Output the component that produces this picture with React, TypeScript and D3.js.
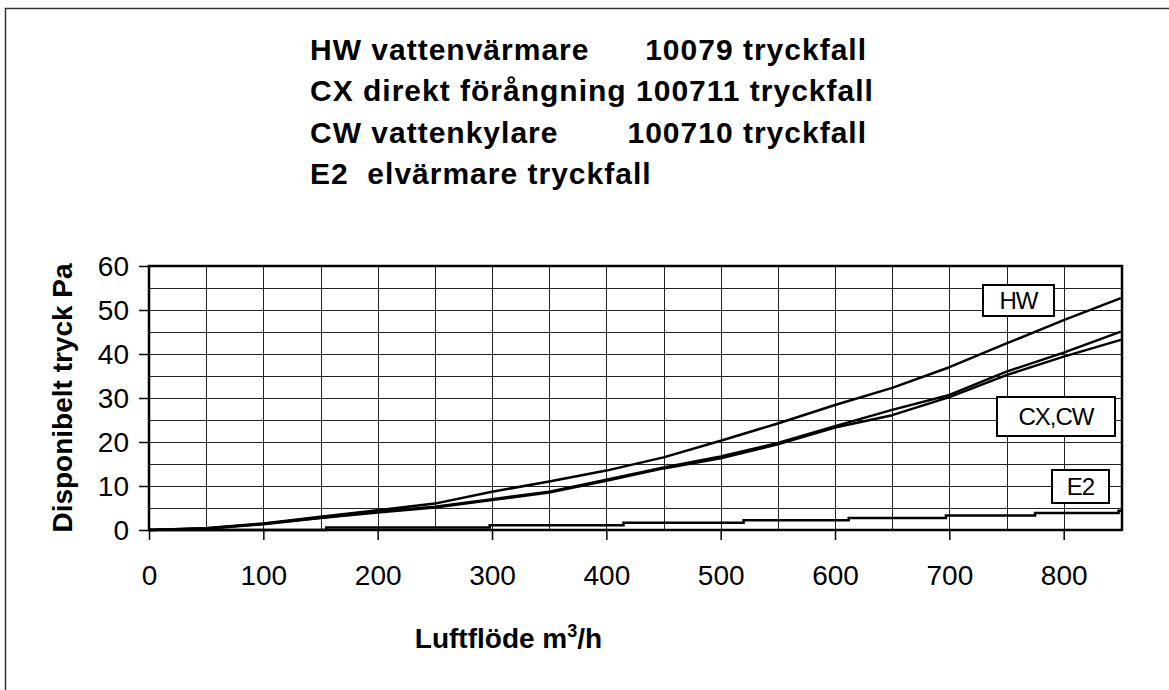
import * as d3 from "d3";
import { useEffect, useRef } from "react";

// Luftflöde (m3/h) sample points
const flow = [0, 50, 100, 150, 200, 250, 300, 350, 400, 450, 500, 550, 600, 650, 700, 750, 800, 850];

// tryckfall Pa per coil
const hwValues = [0, 0.4, 1.5, 3.0, 4.5, 6.0, 8.7, 11.0, 13.5, 16.5, 20.3, 24.2, 28.4, 32.3, 37.0, 42.4, 47.7, 52.7];
const cxValues = [0, 0.4, 1.4, 2.8, 4.2, 5.3, 7.0, 8.7, 11.4, 14.2, 16.7, 19.8, 23.6, 27.3, 30.7, 36.0, 40.3, 45.1];
const cwValues = [0, 0.3, 1.3, 2.7, 4.0, 5.1, 6.8, 8.5, 11.2, 14.0, 16.3, 19.5, 23.3, 26.1, 30.2, 35.2, 39.4, 43.2];

// E2 steps (flow where the step starts, value)
const e2Flow = [0, 155, 298, 415, 520, 612, 697, 775, 848, 851];
const e2Values = [0, 0.55, 1.1, 1.65, 2.2, 2.75, 3.3, 3.85, 4.4, 4.4];

const xTicks = [0, 100, 200, 300, 400, 500, 600, 700, 800];
const yTicks = [0, 10, 20, 30, 40, 50, 60];

const titleLines = [
  ["HW vattenvärmare", "10079 tryckfall"],
  ["CX direkt förångning 100711 tryckfall", ""],
  ["CW vattenkylare", "100710 tryckfall"],
  ["E2  elvärmare tryckfall", ""],
];

const W = 1169;
const H = 690;

export default function App() {
  const ref = useRef<SVGSVGElement | null>(null);

  useEffect(() => {
    if (!ref.current) return;
    const svg = d3.select(ref.current);
    svg.selectAll("*").remove();

    const left = 149;
    const right = 1122;
    const top = 266;
    const bottom = 530;

    const x = d3.scaleLinear().domain([0, 851]).range([left, right]);
    const y = d3.scaleLinear().domain([0, 60]).range([bottom, top]);

    // outer frame (only left / top edges visible)
    svg
      .append("rect")
      .attr("x", 5.5)
      .attr("y", 8.5)
      .attr("width", W + 20)
      .attr("height", H + 20)
      .attr("fill", "white")
      .attr("stroke", "#333")
      .attr("stroke-width", 1.5);

    const font = "'Liberation Sans', Arial, sans-serif";

    // title
    const title = svg
      .append("g")
      .style("font-family", font)
      .style("font-weight", "bold")
      .style("font-size", "30px")
      .style("letter-spacing", "1px");
    titleLines.forEach((line, i) => {
      const by = 60 + i * 41.3;
      title.append("text").attr("x", 310).attr("y", by).attr("xml:space", "preserve").text(line[0]);
      if (line[1]) {
        title.append("text").attr("x", 867).attr("y", by).attr("text-anchor", "end").text(line[1]);
      }
    });

    // grid
    const grid = svg.append("g").attr("stroke", "#222").attr("stroke-width", 1);
    d3.range(5, 60, 5).forEach((v) => {
      grid
        .append("line")
        .attr("x1", left)
        .attr("x2", right)
        .attr("y1", Math.round(y(v)) + 0.5)
        .attr("y2", Math.round(y(v)) + 0.5);
    });
    d3.range(50, 851, 50).forEach((v) => {
      grid
        .append("line")
        .attr("y1", top)
        .attr("y2", bottom)
        .attr("x1", Math.round(x(v)) + 0.5)
        .attr("x2", Math.round(x(v)) + 0.5);
    });

    // axes
    const xAxis = svg
      .append("g")
      .attr("transform", `translate(0,${bottom})`)
      .call(d3.axisBottom(x).tickValues(xTicks).tickSize(10).tickSizeOuter(0).tickPadding(20));
    const yAxis = svg
      .append("g")
      .attr("transform", `translate(${left},0)`)
      .call(d3.axisLeft(y).tickValues(yTicks).tickSize(10).tickSizeOuter(0).tickPadding(10));
    [xAxis, yAxis].forEach((a) => {
      a.select(".domain").remove();
      a.selectAll("line").attr("stroke", "#000").attr("stroke-width", 1.5);
      a.selectAll("text").style("font-family", font).style("font-size", "28px").attr("fill", "#000");
    });
    yAxis.selectAll("text").attr("dy", "0.35em");
    xAxis.selectAll("text").attr("dy", "0.9em");

    // plot frame
    svg
      .append("rect")
      .attr("x", left)
      .attr("y", top)
      .attr("width", right - left)
      .attr("height", bottom - top)
      .attr("fill", "none")
      .attr("stroke", "#000")
      .attr("stroke-width", 2.5);

    // curves
    const line = d3
      .line<number>()
      .x((_, i) => x(flow[i]))
      .y((d) => y(d));
    [hwValues, cxValues, cwValues].forEach((vals) => {
      svg
        .append("path")
        .attr("d", line(vals))
        .attr("fill", "none")
        .attr("stroke", "#000")
        .attr("stroke-width", 2.5)
        .attr("stroke-linejoin", "round");
    });
    const e2Line = d3
      .line<number>()
      .x((_, i) => x(e2Flow[i]))
      .y((d) => y(d))
      .curve(d3.curveStepAfter);
    svg
      .append("path")
      .attr("d", e2Line(e2Values))
      .attr("fill", "none")
      .attr("stroke", "#000")
      .attr("stroke-width", 2.5);

    // labels in boxes
    const labels = [
      { text: "HW", x: 983, y: 285, w: 71, h: 31 },
      { text: "CX,CW", x: 997, y: 397, w: 118, h: 39 },
      { text: "E2", x: 1052, y: 470, w: 57, h: 33 },
    ];
    labels.forEach((l) => {
      svg
        .append("rect")
        .attr("x", l.x)
        .attr("y", l.y)
        .attr("width", l.w)
        .attr("height", l.h)
        .attr("fill", "white")
        .attr("stroke", "#000")
        .attr("stroke-width", 2);
      svg
        .append("text")
        .attr("x", l.x + l.w / 2)
        .attr("y", l.y + l.h / 2)
        .attr("dy", "0.36em")
        .attr("text-anchor", "middle")
        .style("font-family", font)
        .style("font-size", "24px")
        .style("letter-spacing", "-1px")
        .text(l.text);
    });

    // axis titles
    const xt = svg
      .append("text")
      .attr("x", (left + right) / 2 - 127)
      .attr("y", 648)
      .attr("text-anchor", "middle")
      .style("font-family", font)
      .style("font-weight", "bold")
      .style("font-size", "28px");
    xt.append("tspan").text("Luftflöde m");
    xt.append("tspan").attr("dy", -11).style("font-size", "18px").text("3");
    xt.append("tspan").attr("dy", 11).text("/h");

    svg
      .append("text")
      .attr("transform", `translate(72,${(top + bottom) / 2}) rotate(-90)`)
      .attr("text-anchor", "middle")
      .style("font-family", font)
      .style("font-weight", "bold")
      .style("font-size", "28px")
      .text("Disponibelt tryck Pa");
  }, []);

  return (
    <div style={{ position: "absolute", left: 0, top: 0 }}>
      <svg ref={ref} width={W} height={H} style={{ display: "block", background: "white" }} />
    </div>
  );
}
